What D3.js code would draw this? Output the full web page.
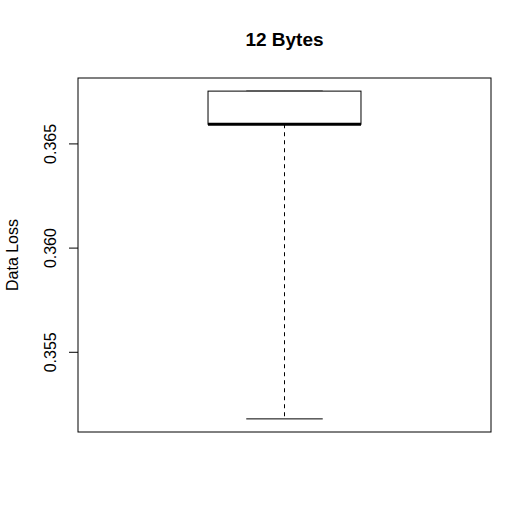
<!DOCTYPE html>
<html><head><meta charset="utf-8">
<script src="https://cdn.jsdelivr.net/npm/d3@7"></script>
<style>body{margin:0;background:#fff;} text{font-family:"Liberation Sans",Arial,sans-serif;}</style>
</head><body>
<svg id="c" width="532" height="530"></svg>
<script>
const categories = ["12 Bytes"];
const boxLower = [0.35178];   // lower whisker
const boxQ1 = [0.36592];
const boxMedian = [0.36592];
const boxQ3 = [0.36751];
const boxUpper = [0.36751];  // upper whisker
const yTicks = [0.355, 0.360, 0.365];
const yLabel = "Data Loss";

const svg = d3.select("#c");
const L = 78, R = 491, T = 78, B = 432;
const lo = d3.min(boxLower), hi = d3.max(boxUpper);
const pad = (hi - lo) * 0.04;
const y = d3.scaleLinear().domain([lo - pad, hi + pad]).range([B, T]);
const x = d3.scaleLinear().domain([0.46, 1.54]).range([L, R]);

// frame
svg.append("rect").attr("x", L).attr("y", T).attr("width", R - L).attr("height", B - T)
  .attr("fill", "none").attr("stroke", "#000").attr("stroke-width", 1);

// y axis
const ax = svg.append("g").attr("transform", `translate(${L},0)`)
  .call(d3.axisLeft(y).tickValues(yTicks).tickSize(9).tickFormat(d3.format(".3f")));
ax.select(".domain").remove();
ax.selectAll("line").attr("stroke", "#000");
ax.selectAll("text").attr("font-size", 16).attr("fill", "#000")
  .attr("transform", "rotate(-90)")
  .attr("x", 0).attr("y", -22).attr("dy", 0).attr("text-anchor", "middle");

categories.forEach((c, i) => {
  const cx = x(i + 1);
  const hw = x(1.2) - x(1);
  const sw = x(1.1) - x(1);
  const g = svg.append("g");
  // whiskers
  g.append("line").attr("x1", cx).attr("x2", cx).attr("y1", y(boxQ1[i])).attr("y2", y(boxLower[i]))
    .attr("stroke", "#000").attr("stroke-dasharray", "4,4");
  g.append("line").attr("x1", cx).attr("x2", cx).attr("y1", y(boxQ3[i])).attr("y2", y(boxUpper[i]))
    .attr("stroke", "#000").attr("stroke-dasharray", "4,4");
  // staples
  g.append("line").attr("x1", cx - sw).attr("x2", cx + sw).attr("y1", y(boxLower[i])).attr("y2", y(boxLower[i])).attr("stroke", "#000");
  g.append("line").attr("x1", cx - sw).attr("x2", cx + sw).attr("y1", y(boxUpper[i])).attr("y2", y(boxUpper[i])).attr("stroke", "#000");
  // box
  g.append("rect").attr("x", cx - hw).attr("y", y(boxQ3[i])).attr("width", 2 * hw)
    .attr("height", y(boxQ1[i]) - y(boxQ3[i])).attr("fill", "#fff").attr("stroke", "#000");
  // median
  g.append("line").attr("x1", cx - hw).attr("x2", cx + hw).attr("y1", y(boxMedian[i])).attr("y2", y(boxMedian[i]))
    .attr("stroke", "#000").attr("stroke-width", 3);
});

svg.append("text").attr("x", (L + R) / 2).attr("y", 46).attr("text-anchor", "middle")
  .attr("font-size", 19).attr("font-weight", "bold").text(categories[0]);
svg.append("text").attr("transform", `translate(18,${(T + B) / 2}) rotate(-90)`).attr("text-anchor", "middle")
  .attr("font-size", 16).text(yLabel);
</script>
</body></html>
